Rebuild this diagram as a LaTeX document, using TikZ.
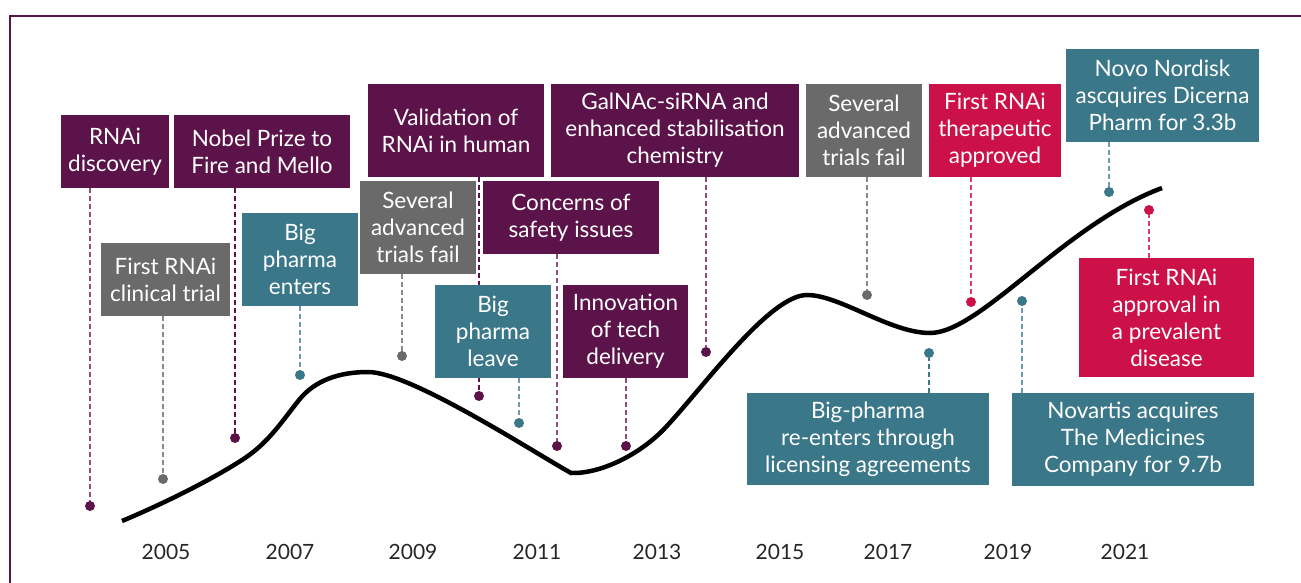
\documentclass[tikz,border=0pt]{standalone}
\usepackage{fontspec}
\setmainfont{Lato}
\usetikzlibrary{backgrounds}
\definecolor{cpur}{HTML}{5C1349}
\definecolor{cgray}{HTML}{6A6A6A}
\definecolor{cteal}{HTML}{3A7789}
\definecolor{cred}{HTML}{CC1149}
\definecolor{lpur}{HTML}{8E4F80}
\definecolor{lgray}{HTML}{8A8A8A}
\definecolor{lteal}{HTML}{6D9DAC}
\definecolor{lred}{HTML}{D8406E}
\newcommand{\boxfont}{\fontsize{22.5}{27}\selectfont}
\begin{document}
\begin{tikzpicture}[x=1pt,y=-1pt,
  evbox/.style={fill=#1, text=white, inner sep=0pt, align=center, font=\boxfont},
  dot/.style={circle, fill=#1, inner sep=0pt, minimum size=10pt},
  conn/.style={draw=#1, line width=1.4pt, dash pattern=on 5pt off 3pt},
  year/.style={font=\fontsize{21}{24}\selectfont, text=black!85, inner sep=0pt},
  curve/.style={line width=4.5pt, black}]
\useasboundingbox (0,0) rectangle (1301,583);
% frame
\draw[cpur, line width=2.5pt] (10,583) -- (10,16) -- (1301,16);

% curve
\draw[curve] (122,521) .. controls (165,503) and (215,478) .. (245,458)
  .. controls (269,442) and (283,420) .. (299,400)
  .. controls (315,380) and (340,372) .. (368,372)
  .. controls (410,372) and (530,450) .. (571,473)
  .. controls (600,474) and (640,455) .. (666,427)
  .. controls (705,385) and (770,295) .. (807,295)
  .. controls (840,295) and (890,333) .. (930,333)
  .. controls (980,333) and (1065,224) .. (1162,188);

% boxes
\node[evbox=cpur, minimum width=108pt, minimum height=73pt] (disc) at (115,151.5) {RNAi\\discovery};
\node[evbox=cpur, minimum width=176pt, minimum height=73pt] (nobel) at (262,151.5) {Nobel Prize to\\Fire and Mello};
\node[evbox=cgray, minimum width=129pt, minimum height=73pt] (clin) at (165.5,279.5) {First RNAi\\clinical trial};
\node[evbox=cteal, minimum width=116pt, minimum height=93pt] (enters) at (300,259.5) {Big\\pharma\\enters};
\node[evbox=cgray, minimum width=116pt, minimum height=93pt] (failA) at (418,227.5) {Several\\advanced\\trials fail};
\node[evbox=cpur, minimum width=176pt, minimum height=93pt] (valid) at (456,130.5) {Validation of\\RNAi in human};
\node[evbox=cpur, minimum width=248pt, minimum height=93pt] (galnac) at (675,130.5) {GalNAc-siRNA and\\enhanced stabilisation\\chemistry};
\node[evbox=cpur, minimum width=176pt, minimum height=73pt] (concerns) at (571,217.5) {Concerns of\\safety issues};
\node[evbox=cteal, minimum width=116pt, minimum height=93pt] (leave) at (493,331.5) {Big\\pharma\\leave};
\node[evbox=cpur, minimum width=125pt, minimum height=93pt] (innov) at (625.5,331.5) {Innovation\\of tech\\delivery};
\node[evbox=cgray, minimum width=116pt, minimum height=93pt] (failB) at (864,130.5) {Several\\advanced\\trials fail};
\node[evbox=cred, minimum width=132pt, minimum height=93pt] (approved) at (995,130.5) {First RNAi\\therapeutic\\approved};
\node[evbox=cteal, minimum width=193pt, minimum height=93pt] (novo) at (1162.5,95.5) {Novo Nordisk\\ascquires Dicerna\\Pharm for 3.3b};
\node[evbox=cred, minimum width=175pt, minimum height=119pt] (prevalent) at (1166.5,317.5) {First RNAi\\approval in\\a prevalent\\disease};
\node[evbox=cteal, minimum width=242pt, minimum height=92pt] (reenters) at (868,439) {Big-pharma\\re-enters through\\licensing agreements};
\node[evbox=cteal, minimum width=242pt, minimum height=93pt] (novartis) at (1133,439.5) {Novartis acquires\\The Medicines\\Company for 9.7b};

% dots
\node[dot=cpur] (pDisc) at (90,506) {};
\node[dot=cpur] (pNobel) at (235,438) {};
\node[dot=cgray] (pClin) at (163,479) {};
\node[dot=cteal] (pEnters) at (300,375) {};
\node[dot=cgray] (pFailA) at (402,356) {};
\node[dot=cpur] (pValid) at (479,396) {};
\node[dot=cteal] (pLeave) at (519,423) {};
\node[dot=cpur] (pConcerns) at (557,446) {};
\node[dot=cpur] (pInnov) at (626,446) {};
\node[dot=cpur] (pGalnac) at (706,352) {};
\node[dot=cgray] (pFailB) at (867,295) {};
\node[dot=cred] (pApproved) at (971,302) {};
\node[dot=cteal] (pNovo) at (1109,192) {};
\node[dot=cteal] (pReenters) at (929,353) {};
\node[dot=cteal] (pNovartis) at (1022,301) {};
\node[dot=cred] (pPrevalent) at (1149,210) {};

% connectors (behind the boxes)
\begin{scope}[on background layer]
\draw[conn=lpur] (disc.south -| pDisc) -- (pDisc);
\draw[conn=cpur] (nobel.south -| pNobel) -- (pNobel);
\draw[conn=lgray] (clin.south -| pClin) -- (pClin);
\draw[conn=lteal] (enters.south -| pEnters) -- (pEnters);
\draw[conn=lgray] (failA.south -| pFailA) -- (pFailA);
\draw[conn=cpur] (valid.south -| pValid) -- (pValid);
\draw[conn=lteal] (leave.south -| pLeave) -- (pLeave);
\draw[conn=lpur] (concerns.south -| pConcerns) -- (pConcerns);
\draw[conn=lpur] (innov.south -| pInnov) -- (pInnov);
\draw[conn=lpur] (galnac.south -| pGalnac) -- (pGalnac);
\draw[conn=lgray] (failB.south -| pFailB) -- (pFailB);
\draw[conn=lred] (approved.south -| pApproved) -- (pApproved);
\draw[conn=lteal] (novo.south -| pNovo) -- (pNovo);
\draw[conn=cteal] (reenters.north -| pReenters) -- (pReenters);
\draw[conn=lteal] (novartis.north -| pNovartis) -- (pNovartis);
\draw[conn=lred] (prevalent.north -| pPrevalent) -- (pPrevalent);
\end{scope}

% years
\node[year] (y2005) at (166,552) {2005};
\node[year] (y2007) at (290,552) {2007};
\node[year] (y2009) at (413,552) {2009};
\node[year] (y2011) at (537,552) {2011};
\node[year] (y2013) at (657,552) {2013};
\node[year] (y2015) at (780,552) {2015};
\node[year] (y2017) at (888,552) {2017};
\node[year] (y2019) at (1008,552) {2019};
\node[year] (y2021) at (1125,552) {2021};
\end{tikzpicture}
\end{document}
